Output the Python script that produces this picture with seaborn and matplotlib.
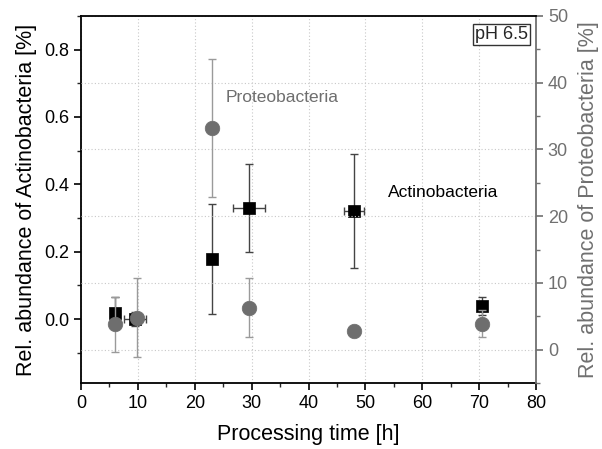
import matplotlib
matplotlib.use("Agg")
import matplotlib.pyplot as plt
import seaborn as sns
import pandas as pd
from matplotlib.ticker import MultipleLocator

sns.set_style("white")
plt.rcParams['font.family'] = ['Liberation Sans', 'DejaVu Sans']

# Actinobacteria (left axis)
act_time = [6.0, 9.5, 23.0, 29.5, 48.0, 70.5]
act_time_err = [0.0, 1.9, 0.0, 2.8, 1.8, 0.0]
act_val = [0.018, 0.0, 0.179, 0.329, 0.321, 0.039]
act_err = [0.047, 0.02, 0.163, 0.13, 0.17, 0.027]

# Proteobacteria (right axis)
pro_time = [6.0, 9.8, 23.0, 29.5, 48.0, 70.5]
pro_val = [3.8, 4.8, 33.2, 6.3, 2.8, 3.9]
pro_err = [4.1, 5.9, 10.3, 4.4, 0.6, 2.0]

BLACK = "#000000"
GRAY = "#6e6e6e"
AXGRAY = "#707070"

fig = plt.figure(figsize=(6.02, 4.49), dpi=100)
ax = fig.add_axes([0.1346, 0.147, 0.7558, 0.8174])
ax2 = ax.twinx()

act_df = pd.DataFrame({"t": act_time, "v": act_val})
pro_df = pd.DataFrame({"t": pro_time, "v": pro_val})

# Actinobacteria
ax.errorbar(act_time, act_val, yerr=act_err, xerr=act_time_err, fmt="none",
            ecolor="#444444", elinewidth=1.0, capsize=3, capthick=1.0, zorder=2)
sns.scatterplot(data=act_df, x="t", y="v", ax=ax, marker="s", s=70,
                color=BLACK, edgecolor=BLACK, linewidth=0.5, zorder=3)

# Proteobacteria
ax2.errorbar(pro_time, pro_val, yerr=pro_err, fmt="none",
             ecolor="#9a9a9a", elinewidth=1.0, capsize=3, capthick=1.0, zorder=2)
sns.scatterplot(data=pro_df, x="t", y="v", ax=ax2, marker="o", s=110,
                color=GRAY, edgecolor=GRAY, linewidth=0.5, zorder=3)

# Axes limits
ax.set_xlim(0, 80)
ax.set_ylim(-0.19, 0.90)
ax2.set_ylim(-5, 50)

ax.xaxis.set_major_locator(MultipleLocator(10))
ax.xaxis.set_minor_locator(MultipleLocator(5))
ax.yaxis.set_major_locator(MultipleLocator(0.2))
ax.yaxis.set_minor_locator(MultipleLocator(0.1))
ax2.yaxis.set_major_locator(MultipleLocator(10))
ax2.yaxis.set_minor_locator(MultipleLocator(5))

# Grid
ax.grid(False)
ax2.grid(False)
ax.xaxis.grid(True, which="major", color="#c8c8c8", linestyle=(0, (1, 2)), linewidth=0.8)
ax2.yaxis.grid(True, which="major", color="#c8c8c8", linestyle=(0, (1, 2)), linewidth=0.8)
ax.set_axisbelow(True)
ax2.set_axisbelow(True)

# Ticks
ax.tick_params(axis="both", which="major", direction="out", length=5, width=1.2,
               labelsize=13, colors=BLACK, left=True, bottom=True, right=False, top=False)
ax.tick_params(axis="both", which="minor", direction="out", length=3, width=1.0,
               left=True, bottom=True, right=False, top=False)
ax2.tick_params(axis="y", which="major", direction="out", length=5, width=1.2,
                labelsize=13, colors=AXGRAY, right=True)
ax2.tick_params(axis="y", which="minor", direction="out", length=3, width=1.0,
                colors=AXGRAY, right=True)

ax.set_yticklabels([f"{v:.1f}" for v in ax.get_yticks()])

for s in ["left", "bottom"]:
    ax.spines[s].set_color(BLACK)
    ax.spines[s].set_linewidth(1.3)
    ax2.spines[s].set_visible(False)
ax.spines["top"].set_visible(False)
ax2.spines["top"].set_visible(True)
ax2.spines["top"].set_color(BLACK)
ax2.spines["top"].set_linewidth(1.3)
ax.spines["right"].set_visible(False)
ax2.spines["right"].set_color(AXGRAY)
ax2.spines["right"].set_linewidth(1.3)

ax.set_xlabel("Processing time [h]", fontsize=15.5, color=BLACK, labelpad=9)
ax.set_ylabel("Rel. abundance of Actinobacteria [%]", fontsize=15.5, color=BLACK, labelpad=5)
ax2.set_ylabel("Rel. abundance of Proteobacteria [%]", fontsize=15.5, color=AXGRAY, labelpad=7)

ax.text(35.4, 0.658, "Proteobacteria", fontsize=12.5, color=GRAY, ha="center", va="center")
ax.text(63.6, 0.375, "Actinobacteria", fontsize=12.5, color=BLACK, ha="center", va="center")
ax.text(0.982, 0.972, "pH 6.5", transform=ax.transAxes, fontsize=13, ha="right", va="top",
        bbox=dict(boxstyle="square,pad=0.12", facecolor="white", edgecolor="#333333", linewidth=1.0))

fig.savefig("out.png", dpi=100)
